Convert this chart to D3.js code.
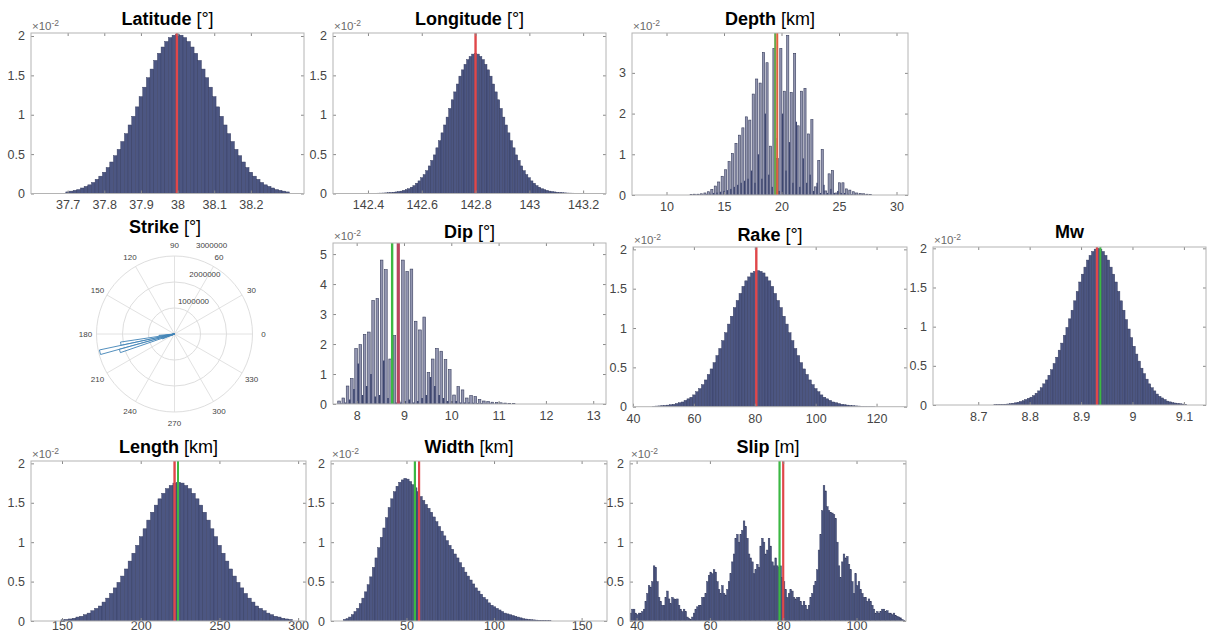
<!DOCTYPE html>
<html>
<head>
<meta charset="utf-8">
<script src="https://d3js.org/d3.v7.min.js"></script>
<style>
  body { margin: 0; background: #fff; }
  svg { display: block; }
</style>
</head>
<body>
<svg id="drawing_region"></svg>
<script>
// histogram heights are in units of 1e-2 (the "x10^-2" of each panel)
const latStart = 37.695, latBin = 0.01;
const latValues = [0.02,0.03,0.04,0.05,0.07,0.09,0.11,0.14,0.18,0.22,0.27,0.33,0.40,0.48,0.56,0.66,0.76,0.87,0.98,1.10,
  1.23,1.35,1.47,1.58,1.69,1.78,1.86,1.93,1.98,2.01,2.02,2.01,1.98,1.93,1.86,1.78,1.69,1.58,1.47,1.35,
  1.23,1.10,0.98,0.87,0.76,0.66,0.56,0.48,0.40,0.33,0.27,0.22,0.18,0.14,0.11,0.09,0.07,0.05,0.04,0.03,0.02];

const lonStart = 142.415, lonBin = 0.0095;
const lonValues = [0.002,0.003,0.004,0.005,0.006,0.008,0.01,0.013,0.016,0.02,0.025,0.03,0.04,0.05,0.06,0.08,0.10,0.13,0.16,0.20,
  0.24,0.29,0.35,0.42,0.49,0.58,0.67,0.77,0.87,0.97,1.08,1.19,1.29,1.39,1.49,1.57,1.64,1.70,1.74,1.77,
  1.78,
  1.77,1.74,1.70,1.64,1.57,1.49,1.39,1.29,1.19,1.08,0.97,0.87,0.77,0.67,0.58,0.49,0.42,0.35,0.29,0.24,
  0.20,0.16,0.13,0.10,0.08,0.06,0.05,0.04,0.03,0.025,0.02,0.016,0.013,0.01,0.008,0.006,0.005,0.004,0.003,0.002];

const depthStart = 12.05, depthBin = 0.3;
const depthLight = [0.01,0.02,0.02,0.03,0.05,0.08,0.14,0.22,0.32,0.46,0.62,0.82,1.02,1.27,1.47,1.65,
  1.92,1.84,2.48,2.85,2.75,3.5,3.25,1.2,3.6,0.9,3.6,2.55,3.92,2.52,3.48,1.7,2.55,2.62,1.5,1.85,
  0.2,0.85,1.12,0.1,0.52,0.6,0.05,0.3,0.3,0.15,0.12,0.08,0.05,0.04,0.03,0.02,0.01];
const depthDark = [0,0.01,0.01,0.01,0.02,0.03,0.05,0.06,0.08,0.1,0.12,0.15,0.2,0.25,0.3,0.35,
  0.4,0.6,0.3,1.0,0.4,2.0,0.5,0.2,1.4,0.1,2.0,0.6,1.3,0.3,1.8,0.2,0.9,0.3,0.5,0.1,
  0.3,0.05,0.25,0.05,0.15,0.05,0.1,0.05,0.05,0.03,0.02,0.02,0.01,0.01,0.01,0,0];

const dipStart = 7.6, dipBin = 0.09;
const dipLight = [0.1,0.2,0.6,0.85,1.85,1.98,2.32,2.4,3.45,3.52,4.8,4.48,1.5,2.28,0.1,4.8,4.42,4.5,2.76,2.47,
  2.9,1.05,1.5,1.85,1.76,1.48,1.15,0.3,0.58,0.47,0.2,0.28,0.25,0.15,0.1,0.08,0.06,0.05,0.04,0.03,0.02,0.02];
const dipDark = [0.02,0.05,0.15,0.5,1.35,0.3,0.6,1.0,0.25,0.3,1.45,0.2,0.5,0.05,0.05,0.1,0.15,0.05,0.1,0.2,
  0.3,0.9,0.6,0.3,0.2,0.1,0.1,0.1,0.05,0.05,0.05,0.04,0.03,0.03,0.02,0.02,0.01,0.01,0.01,0.01,0,0];

const rakeStart = 46.325, rakeBin = 0.95;
const rakeValues = [0.006,0.008,0.01,0.013,0.016,0.02,0.025,0.03,0.04,0.05,0.06,0.08,0.10,0.12,0.15,0.19,0.23,0.28,0.34,0.41,
  0.48,0.56,0.65,0.74,0.84,0.94,1.05,1.15,1.26,1.35,1.44,1.53,1.60,1.65,1.70,1.72,
  1.73,
  1.72,1.70,1.65,1.60,1.53,1.44,1.35,1.26,1.15,1.05,0.94,0.84,0.74,0.65,0.56,0.48,0.41,0.34,0.28,0.23,
  0.19,0.15,0.12,0.10,0.08,0.06,0.05,0.04,0.03,0.025,0.02,0.016,0.013,0.01,0.008,0.006,0.005,0.004,0.003,0.002];

const mwStart = 8.7305, mwBin = 0.005;
const mwValues = [0.004,0.005,0.006,0.008,0.01,0.013,0.017,0.022,0.028,0.035,0.045,0.055,0.07,0.085,0.10,0.12,0.15,0.18,0.22,0.27,
  0.32,0.38,0.45,0.53,0.61,0.70,0.79,0.89,0.99,1.10,1.21,1.33,1.45,1.57,1.67,1.76,1.85,1.91,1.96,1.99,
  2.0,
  1.99,1.96,1.91,1.85,1.76,1.67,1.57,1.45,1.33,1.21,1.09,0.97,0.86,0.75,0.65,0.56,0.47,0.40,0.33,0.27,
  0.22,0.18,0.14,0.11,0.09,0.07,0.05,0.04,0.03,0.025,0.02,0.016,0.012,0.008];

const lengthStart = 149.345, lengthBin = 2.37;
const lengthValues = [0.015,0.02,0.026,0.035,0.05,0.06,0.08,0.10,0.13,0.16,0.19,0.24,0.29,0.35,0.42,0.49,0.57,0.66,0.76,0.86,
  0.96,1.07,1.17,1.28,1.38,1.47,1.55,1.62,1.68,1.72,1.75,
  1.76,
  1.75,1.72,1.68,1.62,1.55,1.47,1.38,1.28,1.17,1.07,0.96,0.86,0.76,0.66,0.57,0.49,0.42,0.35,0.29,0.24,
  0.19,0.16,0.13,0.10,0.08,0.06,0.05,0.035,0.026,0.02];

const widthStart = 14, widthBin = 1.5;
const widthValues = [0.02,0.03,0.05,0.08,0.12,0.16,0.22,0.29,0.37,0.46,0.56,0.68,0.8,0.93,1.06,1.18,1.31,1.44,1.55,1.64,
  1.71,1.76,1.79,1.81,1.80,1.77,1.73,1.69,1.64,1.58,1.53,1.48,1.43,1.38,1.32,1.26,1.20,1.14,1.08,1.02,
  0.96,0.91,0.85,0.80,0.74,0.68,0.62,0.57,0.52,0.47,0.42,0.38,0.34,0.30,0.27,0.23,0.20,0.18,0.16,0.14,
  0.12,0.10,0.09,0.08,0.07,0.06,0.05,0.04,0.03,0.025,0.02,0.017,0.014,0.011,0.009,0.007,0.005,0.004,0.003];

const slipStart = 38.18, slipBin = 0.4545;
const slipValues = [0.1,0.15,0.15,0.1,0.08,0.1,0.1,0.12,0.15,0.25,0.35,0.45,0.43,0.5,0.7,0.68,0.5,0.3,0.25,0.2,
  0.2,0.3,0.38,0.28,0.22,0.3,0.28,0.27,0.28,0.2,0.15,0.12,0.15,0.12,0.05,0.03,0.02,0.05,0.1,0.15,
  0.18,0.2,0.2,0.3,0.3,0.35,0.5,0.58,0.62,0.6,0.65,0.62,0.5,0.4,0.35,0.45,0.35,0.33,0.4,0.5,
  0.6,0.75,0.85,1.05,1.1,1.0,1.1,1.15,1.27,1.2,1.05,0.85,0.8,0.75,0.6,0.65,0.72,0.68,0.95,1.05,
  1.0,0.85,0.9,1.05,0.95,0.75,0.7,0.8,0.7,0.68,0.7,0.55,0.5,0.4,0.3,0.35,0.4,0.38,0.3,0.28,
  0.3,0.3,0.25,0.2,0.25,0.2,0.15,0.2,0.3,0.35,0.45,0.5,0.65,0.9,1.1,1.4,1.72,1.65,1.45,1.4,
  1.38,1.37,1.35,1.3,1.0,0.7,0.55,0.75,0.85,0.8,0.82,0.72,0.65,0.5,0.35,0.6,0.45,0.5,0.4,0.35,
  0.3,0.3,0.25,0.28,0.25,0.2,0.15,0.1,0.12,0.1,0.12,0.15,0.15,0.12,0.13,0.1,0.1,0.08,0.1,0.07,
  0.06,0.05,0.04,0.02,0.01];

// strike rose: bin edges in degrees, counts
const strikeEdges = [181.5, 185, 188.5, 192, 195.5, 199, 202.5, 206];
const strikeCounts = [100000, 600000, 2100000, 2950000, 2200000, 500000, 100000];
const strikeRings = [1000000, 2000000, 3000000];
const strikeAngles = [0, 30, 60, 90, 120, 150, 180, 210, 240, 270, 300, 330];

const RED = '#e0474a', GREEN = '#3cb843';

class HistPanel {
    constructor(config) {
        this.config = config;
        this.init();
    }

    init() {
        let self = this;
        const c = self.config;
        self.chart = d3.select(c.parent).append('g');
        self.xscale = d3.scaleLinear().domain(c.xDomain).range([c.left, c.right]);
        self.yscale = d3.scaleLinear().domain([0, c.yMax]).range([c.bottom, c.top]);
    }

    render() {
        let self = this;
        const c = self.config;
        const x = self.xscale, y = self.yscale;

        const clipId = 'clip-' + c.name;
        self.chart.append('clipPath').attr('id', clipId)
            .append('rect')
            .attr('x', c.left).attr('y', c.top)
            .attr('width', c.right - c.left).attr('height', c.bottom - c.top);

        const plot = self.chart.append('g').attr('clip-path', `url(#${clipId})`);

        if (c.dark) {
            // two-tone bars: tall light bars with short dark ones between
            plot.selectAll('rect.light')
                .data(c.values)
                .join('rect')
                .attr('class', 'light')
                .attr('x', (d, i) => x(c.start + i * c.bin))
                .attr('width', (d, i) => (x(c.start + (i + 0.62) * c.bin) - x(c.start + i * c.bin)))
                .attr('y', d => y(d))
                .attr('height', d => y(0) - y(d))
                .style('fill', '#9396b1')
                .style('stroke', '#363c5c')
                .style('stroke-width', 0.6);
            plot.selectAll('rect.dark')
                .data(c.dark)
                .join('rect')
                .attr('class', 'dark')
                .attr('x', (d, i) => x(c.start + (i + 0.62) * c.bin))
                .attr('width', (d, i) => (x(c.start + (i + 1) * c.bin) - x(c.start + (i + 0.62) * c.bin)))
                .attr('y', d => y(d))
                .attr('height', d => y(0) - y(d))
                .style('fill', '#3c4570');
        } else {
            plot.selectAll('rect.bar')
                .data(c.values)
                .join('rect')
                .attr('class', 'bar')
                .attr('x', (d, i) => x(c.start + i * c.bin))
                .attr('width', (d, i) => x(c.start + (i + 1) * c.bin) - x(c.start + i * c.bin))
                .attr('y', d => y(d))
                .attr('height', d => y(0) - y(d))
                .style('fill', '#4c5682')
                .style('stroke', '#333a5e')
                .style('stroke-width', 0.45);
        }

        plot.selectAll('line.mark')
            .data(c.lines)
            .join('line')
            .attr('class', 'mark')
            .attr('x1', d => x(d.v)).attr('x2', d => x(d.v))
            .attr('y1', c.top).attr('y2', c.bottom)
            .style('stroke', d => d.color)
            .style('stroke-width', d => d.w || 2.4);

        // axes with inward ticks, box on all four sides
        const tickFmt = d => String(d);
        const styleAxis = g => {
            g.select('.domain').remove();
            g.selectAll('.tick line').style('stroke', '#8a8a8a');
            g.selectAll('.tick text')
                .style('font-family', '"Liberation Sans", Arial, sans-serif')
                .style('font-size', '12.5px')
                .style('fill', '#454545');
        };

        self.chart.append('g')
            .attr('transform', `translate(0, ${c.bottom})`)
            .call(d3.axisBottom(x).tickValues(c.xTicks).tickFormat(tickFmt).tickSize(-3)
                .tickPadding(c.xPad !== undefined ? c.xPad : 7))
            .call(styleAxis);
        self.chart.append('g')
            .attr('transform', `translate(0, ${c.top})`)
            .call(d3.axisTop(x).tickValues(c.xTicks).tickFormat('').tickSize(-3))
            .call(styleAxis);
        self.chart.append('g')
            .attr('transform', `translate(${c.left}, 0)`)
            .call(d3.axisLeft(y).tickValues(c.yTicks).tickFormat(tickFmt).tickSize(-3).tickPadding(6))
            .call(styleAxis);
        self.chart.append('g')
            .attr('transform', `translate(${c.right}, 0)`)
            .call(d3.axisRight(y).tickValues(c.yTicks).tickFormat('').tickSize(-3))
            .call(styleAxis);

        self.chart.append('rect')
            .attr('x', c.left).attr('y', c.top)
            .attr('width', c.right - c.left).attr('height', c.bottom - c.top)
            .style('fill', 'none')
            .style('stroke', '#b4b4b4')
            .style('stroke-width', 1);

        // exponent label
        const ex = self.chart.append('text')
            .attr('x', c.left + 1)
            .attr('y', c.top - 3)
            .style('font-family', '"Liberation Sans", Arial, sans-serif')
            .style('font-size', '11.5px')
            .style('fill', '#6a6a6a');
        ex.append('tspan').text('\u00d710');
        ex.append('tspan').attr('dy', -4).style('font-size', '8.5px').text('-2');

        // title
        const t = self.chart.append('text')
            .attr('x', (c.left + c.right) / 2)
            .attr('y', c.titleY)
            .attr('text-anchor', 'middle')
            .style('font-family', '"Liberation Sans", Arial, sans-serif')
            .style('font-size', '18px')
            .style('fill', '#000');
        t.append('tspan').style('font-weight', 'bold').text(c.title);
        if (c.unit) t.append('tspan').text(' ' + c.unit);
    }
}

function drawStrike(parent) {
    const cx = 174.5, cy = 334, R = 78;
    const g = d3.select(parent).append('g').attr('transform', `translate(${cx}, ${cy})`);
    const r = d3.scaleLinear().domain([0, 3000000]).range([0, R]);
    const rad = a => a * Math.PI / 180;
    const font = '"Liberation Sans", Arial, sans-serif';

    g.selectAll('line.spoke')
        .data(strikeAngles)
        .join('line')
        .attr('class', 'spoke')
        .attr('x1', 0).attr('y1', 0)
        .attr('x2', d => R * Math.cos(rad(d)))
        .attr('y2', d => -R * Math.sin(rad(d)))
        .style('stroke', '#e2e2e2')
        .style('stroke-width', 1);

    g.selectAll('circle.ring')
        .data(strikeRings)
        .join('circle')
        .attr('class', 'ring')
        .attr('r', d => r(d))
        .style('fill', 'none')
        .style('stroke', '#dedede')
        .style('stroke-width', 1);

    const arc = d3.arc().innerRadius(0);
    g.selectAll('path.petal')
        .data(strikeCounts)
        .join('path')
        .attr('class', 'petal')
        .attr('d', (d, i) => arc({
            outerRadius: r(d),
            startAngle: rad(90 - strikeEdges[i + 1]),
            endAngle: rad(90 - strikeEdges[i])
        }))
        .style('fill', 'rgba(255,255,255,0.6)')
        .style('stroke', '#3f82b5')
        .style('stroke-width', 0.9);

    g.selectAll('text.ang')
        .data(strikeAngles)
        .join('text')
        .attr('class', 'ang')
        .attr('x', d => 89 * Math.cos(rad(d)))
        .attr('y', d => -89 * Math.sin(rad(d)) + 3)
        .attr('text-anchor', 'middle')
        .style('font-family', font)
        .style('font-size', '8px')
        .style('fill', '#444')
        .text(d => d);

    // radial labels sit in the 60-90 sector, just outside each ring
    const rlabAngle = [60, 63, 72], rlabGap = [12, 15, 16];
    g.selectAll('text.rlab')
        .data(strikeRings)
        .join('text')
        .attr('class', 'rlab')
        .attr('x', (d, i) => (r(d) + rlabGap[i]) * Math.cos(rad(rlabAngle[i])) + (i === 2 ? 8 : 0))
        .attr('y', (d, i) => -(r(d) + rlabGap[i]) * Math.sin(rad(rlabAngle[i])) + 3)
        .attr('text-anchor', 'middle')
        .style('font-family', font)
        .style('font-size', '8px')
        .style('fill', '#444')
        .text(d => d);

    const t = d3.select(parent).append('text')
        .attr('x', 165).attr('y', 233)
        .attr('text-anchor', 'middle')
        .style('font-family', font)
        .style('font-size', '18px');
    t.append('tspan').style('font-weight', 'bold').text('Strike');
    t.append('tspan').text(' [\u00b0]');
}

const svg = d3.select('#drawing_region').attr('width', 1208).attr('height', 632);

const panels = [
    { name: 'lat', title: 'Latitude', unit: '[\u00b0]', left: 31, right: 304, top: 33, bottom: 193.5, titleY: 25,
      xDomain: [37.6, 38.345], xTicks: [37.7, 37.8, 37.9, 38, 38.1, 38.2], yMax: 2.038, yTicks: [0, 0.5, 1, 1.5, 2],
      start: latStart, bin: latBin, values: latValues, lines: [{ v: 37.998, color: RED }] },
    { name: 'lon', title: 'Longitude', unit: '[\u00b0]', left: 333, right: 606, top: 33, bottom: 193.5, titleY: 25,
      xDomain: [142.27, 143.285], xTicks: [142.4, 142.6, 142.8, 143, 143.2], yMax: 2.038, yTicks: [0, 0.5, 1, 1.5, 2],
      start: lonStart, bin: lonBin, values: lonValues, lines: [{ v: 142.80, color: RED }] },
    { name: 'depth', title: 'Depth', unit: '[km]', left: 632, right: 908, top: 33, bottom: 195, titleY: 25,
      xDomain: [7, 31], xTicks: [10, 15, 20, 25, 30], yMax: 3.98, yTicks: [0, 1, 2, 3],
      start: depthStart, bin: depthBin, values: depthLight, dark: depthDark,
      lines: [{ v: 19.45, color: '#6aa84a', w: 2 }, { v: 19.63, color: '#e2623e', w: 2 }] },
    { name: 'dip', title: 'Dip', unit: '[\u00b0]', left: 333, right: 606, top: 243, bottom: 404, titleY: 238,
      xDomain: [7.5, 13.27], xTicks: [8, 9, 10, 11, 12, 13], yMax: 5.37, yTicks: [0, 1, 2, 3, 4, 5],
      start: dipStart, bin: dipBin, values: dipLight, dark: dipDark,
      lines: [{ v: 8.75, color: GREEN, w: 2.4 }, { v: 8.88, color: '#b8455e', w: 3.2 }] },
    { name: 'rake', title: 'Rake', unit: '[\u00b0]', left: 633, right: 907, top: 247, bottom: 406.7, titleY: 241,
      xDomain: [40, 130], xTicks: [40, 60, 80, 100, 120], yMax: 2.03, yTicks: [0, 0.5, 1, 1.5, 2],
      start: rakeStart, bin: rakeBin, values: rakeValues, lines: [{ v: 80.5, color: RED }] },
    { name: 'mw', title: 'Mw', unit: '', left: 933, right: 1206, top: 247, bottom: 405, titleY: 238,
      xDomain: [8.612, 9.143], xTicks: [8.7, 8.8, 8.9, 9, 9.1], yMax: 2.017, yTicks: [0, 0.5, 1, 1.5, 2],
      start: mwStart, bin: mwBin, values: mwValues,
      lines: [{ v: 8.9375, color: GREEN, w: 2 }, { v: 8.931, color: RED, w: 2.4 }] },
    { name: 'length', title: 'Length', unit: '[km]', left: 31, right: 306, top: 461, bottom: 621, titleY: 453, xPad: 0,
      xDomain: [130.3, 305], xTicks: [150, 200, 250, 300], yMax: 2.03, yTicks: [0, 0.5, 1, 1.5, 2],
      start: lengthStart, bin: lengthBin, values: lengthValues,
      lines: [{ v: 223.7, color: GREEN, w: 2 }, { v: 221.5, color: RED, w: 2.4 }] },
    { name: 'width', title: 'Width', unit: '[km]', left: 331, right: 607, top: 461, bottom: 621, titleY: 453, xPad: 0,
      xDomain: [6.9, 164.5], xTicks: [50, 100, 150], yMax: 2.03, yTicks: [0, 0.5, 1, 1.5, 2],
      start: widthStart, bin: widthBin, values: widthValues,
      lines: [{ v: 54.8, color: GREEN, w: 2.2 }, { v: 57.2, color: RED, w: 2.2 }] },
    { name: 'slip', title: 'Slip', unit: '[m]', left: 630, right: 906, top: 461, bottom: 621, titleY: 453, xPad: 0,
      xDomain: [38.2, 113.5], xTicks: [40, 60, 80, 100], yMax: 2.03, yTicks: [0, 0.5, 1, 1.5, 2],
      start: slipStart, bin: slipBin, values: slipValues,
      lines: [{ v: 79.0, color: GREEN, w: 2.2 }, { v: 80.0, color: RED, w: 2.2 }] }
];

panels.forEach(p => {
    p.parent = '#drawing_region';
    const panel = new HistPanel(p);
    panel.render();
});

drawStrike('#drawing_region');
</script>
</body>
</html>
